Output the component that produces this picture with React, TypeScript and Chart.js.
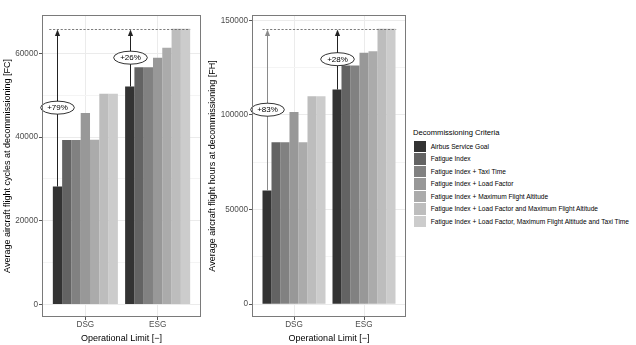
import React, { useEffect, useRef } from 'react';
import { Chart, registerables } from 'chart.js';

Chart.register(...registerables);

const FONT = '"Liberation Sans", Arial, Helvetica, sans-serif';

const categories = ['DSG', 'ESG'];
const criteria = [
  'Airbus Service Goal',
  'Fatigue Index',
  'Fatigue Index + Taxi Time',
  'Fatigue Index + Load Factor',
  'Fatigue Index + Maximum Flight Altitude',
  'Fatigue Index + Load Factor and Maximum Flight Altitude',
  'Fatigue Index + Load Factor, Maximum Flight Altitude and Taxi Time',
];
const greys = ['#333333', '#636363', '#818181', '#989898', '#ABABAB', '#BDBDBD', '#CCCCCC'];

// Flight cycles [FC] per criterion: [DSG, ESG]
const fcAirbus = [28200, 52100];
const fcFatigue = [39300, 56700];
const fcTaxi = [39300, 56700];
const fcLoad = [45800, 59000];
const fcAltitude = [39400, 61400];
const fcLoadAltitude = [50400, 65900];
const fcAll = [50400, 65900];

// Flight hours [FH] per criterion: [DSG, ESG]
const fhAirbus = [60000, 113400];
const fhFatigue = [85600, 126100];
const fhTaxi = [85600, 126100];
const fhLoad = [101600, 132800];
const fhAltitude = [85600, 133600];
const fhLoadAltitude = [109900, 145500];
const fhAll = [109900, 145500];

const fcGain = ['+79%', '+26%'];
const fhGain = ['+83%', '+28%'];

const fcMajorTicks = [0, 20000, 40000, 60000];
const fcMinorTicks = [10000, 30000, 50000];
const fhMajorTicks = [0, 50000, 100000, 150000];
const fhMinorTicks = [25000, 75000, 125000];

type PanelSpec = {
  series: number[][];
  major: number[];
  minor: number[];
  yMin: number;
  yMax: number;
  yTitle: string;
  gains: string[];
  arrowColors: string[];
  dashRange: number[];
  axisWidth: number;
  padRight: number;
};

function makeAnnotation(spec: PanelSpec) {
  return {
    id: 'gainAnnotations',
    afterDatasetsDraw(chart: any) {
      const { ctx, scales } = chart;
      const x = scales.x;
      const y = scales.y;
      const datasets = chart.data.datasets;
      const all: number[] = [];
      datasets.forEach((d: any) => d.data.forEach((p: any) => all.push(p.y)));
      const top = Math.max(...all);
      const yTop = Math.round(y.getPixelForValue(top)) + 0.5;
      ctx.save();
      ctx.strokeStyle = '#5a5a5a';
      ctx.lineWidth = 0.8;
      ctx.setLineDash([2.2, 1.6]);
      ctx.beginPath();
      ctx.moveTo(x.getPixelForValue(spec.dashRange[0]), yTop);
      ctx.lineTo(x.getPixelForValue(spec.dashRange[1]), yTop);
      ctx.stroke();
      ctx.setLineDash([]);
      const meta = chart.getDatasetMeta(0);
      meta.data.forEach((bar: any, i: number) => {
        const base = datasets[0].data[i].y;
        const bx = Math.round(bar.x) + 0.5;
        const by = y.getPixelForValue(base);
        const col = spec.arrowColors[i];
        ctx.strokeStyle = col;
        ctx.fillStyle = col;
        ctx.lineWidth = 1;
        ctx.beginPath();
        ctx.moveTo(bx, by);
        ctx.lineTo(bx, yTop + 5);
        ctx.stroke();
        ctx.beginPath();
        ctx.moveTo(bx, yTop);
        ctx.lineTo(bx - 2.6, yTop + 6.5);
        ctx.lineTo(bx + 2.6, yTop + 6.5);
        ctx.closePath();
        ctx.fill();
        const my = y.getPixelForValue((base + top) / 2);
        ctx.font = `8px ${FONT}`;
        const tw = ctx.measureText(spec.gains[i]).width;
        ctx.beginPath();
        ctx.ellipse(bx, my, tw / 2 + 6.5, 6.5, 0, 0, Math.PI * 2);
        ctx.fillStyle = '#ffffff';
        ctx.fill();
        ctx.strokeStyle = '#000000';
        ctx.lineWidth = 0.8;
        ctx.stroke();
        ctx.fillStyle = '#000000';
        ctx.textAlign = 'center';
        ctx.textBaseline = 'middle';
        ctx.fillText(spec.gains[i], bx, my + 0.5);
      });
      ctx.restore();
    },
    afterDraw(chart: any) {
      const { ctx, chartArea } = chart;
      ctx.save();
      ctx.strokeStyle = '#7a7a7a';
      ctx.lineWidth = 1;
      ctx.strokeRect(
        Math.round(chartArea.left) + 0.5,
        Math.round(chartArea.top) + 0.5,
        Math.round(chartArea.right - chartArea.left) - 1,
        Math.round(chartArea.bottom - chartArea.top) - 1,
      );
      ctx.restore();
    },
  };
}

function buildConfig(spec: PanelSpec): any {
  const tickValues = [...spec.major, ...spec.minor].sort((a, b) => a - b);
  const isMajor = (v: number) => spec.major.includes(v);
  return {
    type: 'bar',
    data: {
      datasets: spec.series.map((vals, i) => ({
        label: criteria[i],
        data: vals.map((v, j) => ({ x: j + 1, y: v })),
        backgroundColor: greys[i],
        borderWidth: 0,
      })),
    },
    options: {
      animation: false,
      responsive: false,
      devicePixelRatio: 1,
      layout: { padding: { top: 15, right: spec.padRight, left: 0, bottom: 0 } },
      plugins: { legend: { display: false }, tooltip: { enabled: false } },
      datasets: { bar: { categoryPercentage: 0.9, barPercentage: 1, grouped: true } },
      scales: {
        x: {
          type: 'linear',
          min: 0.4,
          max: 2.6,
          offset: false,
          afterBuildTicks: (s: any) => {
            s.ticks = categories.map((_, i) => ({ value: i + 1 }));
          },
          afterFit: (s: any) => {
            s.height = 28;
          },
          ticks: {
            autoSkip: false,
            maxRotation: 0,
            padding: 0,
            color: '#4d4d4d',
            font: { family: FONT, size: 8.2 },
            callback: (v: any) => categories[Math.round(Number(v)) - 1] ?? '',
          },
          grid: { offset: false, color: '#ebebeb', tickColor: '#555555', tickLength: 3, lineWidth: 1 },
          border: { display: false },
          title: {
            display: true,
            text: 'Operational Limit [−]',
            color: '#000000',
            font: { family: FONT, size: 9 },
            padding: { top: 0, bottom: 1 },
          },
        },
        y: {
          type: 'linear',
          min: spec.yMin,
          max: spec.yMax,
          afterBuildTicks: (s: any) => {
            s.ticks = tickValues.map((v) => ({ value: v }));
          },
          afterFit: (s: any) => {
            s.width = spec.axisWidth;
          },
          ticks: {
            autoSkip: false,
            padding: 1,
            color: '#4d4d4d',
            font: { family: FONT, size: 8.2 },
            callback: (v: any) => (isMajor(Number(v)) ? String(v) : ''),
          },
          grid: {
            color: (c: any) => (c.tick && isMajor(c.tick.value) ? '#ebebeb' : '#f4f4f4'),
            tickColor: (c: any) => (c.tick && isMajor(c.tick.value) ? '#555555' : 'rgba(0,0,0,0)'),
            tickLength: 3,
            lineWidth: 1,
          },
          border: { display: false },
          title: {
            display: true,
            text: spec.yTitle,
            color: '#000000',
            font: { family: FONT, size: 9 },
            padding: { top: 2, bottom: 0 },
          },
        },
      },
    },
    plugins: [makeAnnotation(spec)],
  };
}

const leftSpec: PanelSpec = {
  series: [fcAirbus, fcFatigue, fcTaxi, fcLoad, fcAltitude, fcLoadAltitude, fcAll],
  major: fcMajorTicks,
  minor: fcMinorTicks,
  yMin: -3000,
  yMax: 69200,
  yTitle: 'Average aircraft flight cycles at decommissioning [FC]',
  gains: fcGain,
  arrowColors: ['#222222', '#222222'],
  dashRange: [0.5, 2.45],
  axisWidth: 42,
  padRight: 4,
};

const rightSpec: PanelSpec = {
  series: [fhAirbus, fhFatigue, fhTaxi, fhLoad, fhAltitude, fhLoadAltitude, fhAll],
  major: fhMajorTicks,
  minor: fhMinorTicks,
  yMin: -6800,
  yMax: 152800,
  yTitle: 'Average aircraft flight hours at decommissioning [FH]',
  gains: fhGain,
  arrowColors: ['#8a8a8a', '#222222'],
  dashRange: [0.55, 2.46],
  axisWidth: 47,
  padRight: 4,
};

function Panel({ spec, left }: { spec: PanelSpec; left: number }) {
  const ref = useRef<HTMLCanvasElement | null>(null);
  useEffect(() => {
    if (!ref.current) return;
    const chart = new Chart(ref.current, buildConfig(spec));
    return () => chart.destroy();
  }, [spec]);
  return (
    <canvas
      ref={ref}
      width={205}
      height={345}
      style={{ position: 'absolute', left, top: 0, width: 205, height: 345 }}
    />
  );
}

export default function App() {
  return (
    <div
      style={{
        position: 'absolute',
        left: 0,
        top: 0,
        width: 636,
        height: 345,
        background: '#ffffff',
        overflow: 'hidden',
        fontFamily: FONT,
      }}
    >
      <Panel spec={leftSpec} left={0} />
      <Panel spec={rightSpec} left={205} />
      <div
        style={{
          position: 'absolute',
          left: 413,
          top: 127,
          fontSize: 7.6,
          lineHeight: '11px',
          whiteSpace: 'nowrap',
          color: '#000',
        }}
      >
        Decommissioning Criteria
      </div>
      {criteria.map((c, i) => (
        <React.Fragment key={c}>
          <div
            style={{
              position: 'absolute',
              left: 414,
              top: 140.7 + i * 12.5,
              width: 11.7,
              height: 11.6,
              background: greys[i],
            }}
          />
          <div
            style={{
              position: 'absolute',
              left: 430.7,
              top: 140.7 + i * 12.5,
              height: 11.6,
              lineHeight: '11.6px',
              fontSize: 6.6,
              whiteSpace: 'nowrap',
              color: '#000',
            }}
          >
            {c}
          </div>
        </React.Fragment>
      ))}
    </div>
  );
}
